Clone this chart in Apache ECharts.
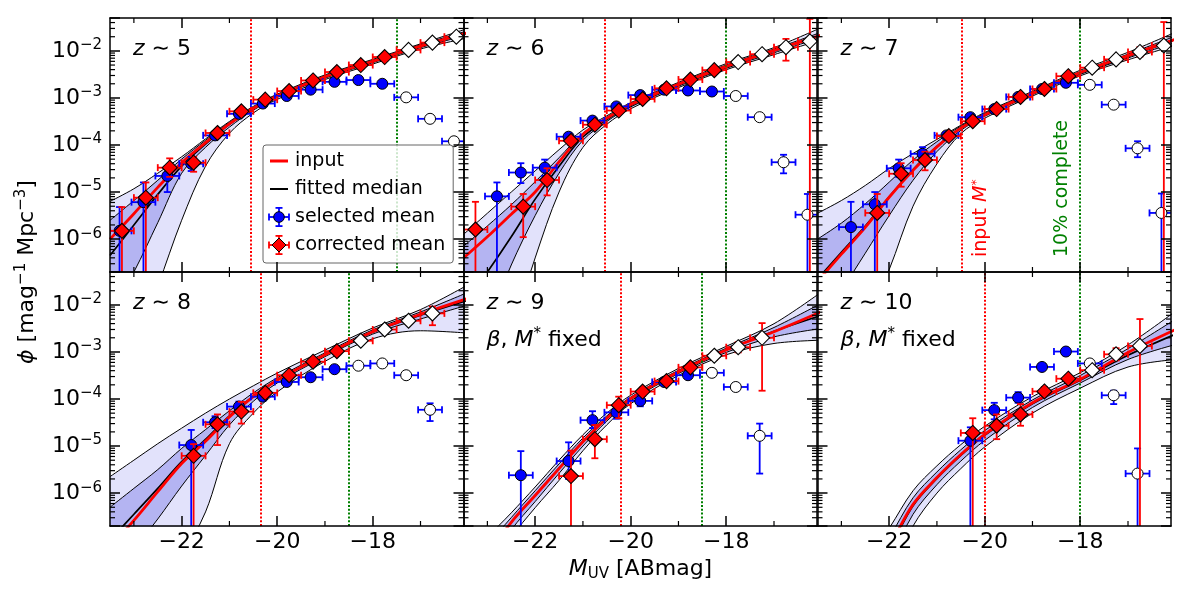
<!DOCTYPE html>
<html>
<head>
<meta charset="utf-8">
<title>UV luminosity function recovery, z ~ 5-10</title>
<script src="https://cdn.jsdelivr.net/npm/echarts@6.0.0/dist/echarts.min.js"></script>
<style>
  html, body { margin: 0; padding: 0; background: #fff; }
  #chart { width: 1200px; height: 594px; }
</style>
</head>
<body>
<div id="chart"></div>
<script>
// ---------- values ----------
var redshifts = ['5', '6', '7', '8', '9', '10'];
var fixedNote = [false, false, false, false, true, true];
var inputMStar = [-20.55, -20.55, -20.48, -20.35, -20.2, -20.0];
var completeness = [-17.5, -18.0, -18.0, -18.5, -18.52, -18.0];
var binHalfWidth = 0.25;
var OFF_BOTTOM = 1e-9;   // error bar runs off the bottom of the panel

var majorXTicks = [-22, -20, -18];
var minorXTicks = [-23, -21, -19, -17];

// curves: log10(phi) sampled at curveX
var curveX = [-23.5, -23, -22.5, -22, -21.5, -21, -20.5, -20, -19, -18, -17, -16];
var inputLog = [
  [-6.0, -5.46, -4.9, -4.38, -3.95, -3.55, -3.22, -2.96, -2.55, -2.22, -1.9, -1.61],
  [-6.4, -5.95, -5.47, -5.0, -4.36, -3.77, -3.43, -3.14, -2.71, -2.33, -1.99, -1.66],
  [-6.9, -6.32, -5.75, -5.11, -4.54, -4.04, -3.64, -3.36, -2.9, -2.46, -2.1, -1.75],
  [-7.15, -6.58, -5.97, -5.37, -4.9, -4.38, -3.95, -3.6, -3.06, -2.57, -2.2, -1.86],
  [-8.3, -7.35, -6.62, -6.05, -5.48, -4.91, -4.41, -3.99, -3.42, -2.96, -2.57, -2.14],
  [-10.3, -9.0, -8.0, -7.15, -6.24, -5.67, -5.18, -4.75, -4.08, -3.58, -3.01, -2.52]
];
var medianLog = [
  [-6.35, -5.7, -5.05, -4.45, -3.98, -3.56, -3.22, -2.96, -2.55, -2.22, -1.9, -1.62],
  [-7.4, -6.7, -5.95, -5.15, -4.45, -3.83, -3.46, -3.16, -2.72, -2.34, -2.0, -1.66],
  [-6.85, -6.28, -5.72, -5.1, -4.52, -4.03, -3.64, -3.36, -2.9, -2.47, -2.12, -1.76],
  [-7.0, -6.45, -5.9, -5.33, -4.86, -4.36, -3.94, -3.6, -3.06, -2.58, -2.22, -1.9],
  [-8.2, -7.3, -6.62, -6.05, -5.47, -4.9, -4.41, -3.99, -3.42, -2.96, -2.56, -2.22],
  [-10.3, -9.0, -8.0, -7.2, -6.27, -5.69, -5.2, -4.77, -4.1, -3.6, -3.07, -2.62]
];
var darkHiLog = [
  [-5.6, -5.18, -4.75, -4.3, -3.9, -3.52, -3.2, -2.94, -2.53, -2.2, -1.87, -1.57],
  [-6.15, -5.72, -5.27, -4.78, -4.27, -3.75, -3.41, -3.12, -2.69, -2.3, -1.96, -1.6],
  [-6.0, -5.66, -5.25, -4.79, -4.32, -3.93, -3.6, -3.33, -2.88, -2.44, -2.07, -1.68],
  [-6.3, -5.9, -5.5, -5.05, -4.65, -4.25, -3.87, -3.55, -3.02, -2.53, -2.15, -1.73],
  [-7.9, -7.12, -6.52, -5.95, -5.38, -4.83, -4.36, -3.96, -3.39, -2.92, -2.48, -1.96],
  [-9.8, -8.6, -7.7, -6.95, -6.1, -5.55, -5.08, -4.67, -4.02, -3.5, -2.93, -2.3]
];
var darkLoLog = [
  [-7.6, -6.7, -5.65, -4.6, -4.05, -3.62, -3.26, -2.99, -2.58, -2.25, -1.93, -1.66],
  [-9.0, -7.8, -6.55, -5.5, -4.6, -3.9, -3.5, -3.19, -2.75, -2.37, -2.04, -1.71],
  [-7.9, -7.1, -6.3, -5.5, -4.75, -4.14, -3.69, -3.39, -2.93, -2.5, -2.15, -1.82],
  [-7.9, -7.2, -6.55, -5.85, -5.2, -4.55, -4.05, -3.66, -3.1, -2.62, -2.3, -2.0],
  [-8.5, -7.55, -6.78, -6.18, -5.58, -5.0, -4.47, -4.04, -3.46, -3.01, -2.68, -2.5],
  [-10.8, -9.4, -8.3, -7.45, -6.45, -5.82, -5.32, -4.88, -4.18, -3.66, -3.16, -2.84]
];
var lightHiLog = [
  [-5.2, -4.93, -4.6, -4.25, -3.87, -3.5, -3.18, -2.92, -2.51, -2.18, -1.85, -1.52],
  [-5.9, -5.45, -5.0, -4.55, -4.1, -3.68, -3.38, -3.1, -2.67, -2.27, -1.93, -1.5],
  [-5.45, -5.18, -4.86, -4.5, -4.18, -3.88, -3.58, -3.31, -2.86, -2.41, -2.03, -1.6],
  [-5.65, -5.3, -4.95, -4.62, -4.3, -4.0, -3.72, -3.45, -2.96, -2.49, -2.1, -1.57],
  [-7.6, -6.95, -6.42, -5.87, -5.3, -4.76, -4.3, -3.92, -3.35, -2.88, -2.4, -1.72],
  [-9.3, -8.3, -7.5, -6.75, -5.95, -5.42, -4.97, -4.58, -3.95, -3.44, -2.85, -2.13]
];
var lightLoLog = [
  [-9.5, -8.3, -7.0, -5.6, -4.45, -3.75, -3.32, -3.03, -2.61, -2.28, -1.96, -1.72],
  [-11, -9.6, -8.0, -6.4, -5.0, -4.05, -3.56, -3.23, -2.78, -2.4, -2.08, -1.76],
  [-10.5, -9.2, -7.8, -6.65, -5.3, -4.4, -3.76, -3.43, -2.96, -2.53, -2.19, -1.88],
  [-11, -9.8, -8.6, -7.4, -6.4, -4.95, -4.3, -3.85, -3.2, -2.72, -2.55, -2.6],
  [-8.9, -7.85, -6.95, -6.31, -5.73, -5.1, -4.55, -4.1, -3.5, -3.06, -2.82, -2.75],
  [-11.3, -9.9, -8.7, -7.8, -6.7, -6.0, -5.48, -5.02, -4.3, -3.77, -3.32, -3.16]
];

// selected mean (blue circles), plotted slightly left of the bin centre
var selX = [
  [-23.3, -22.8, -22.3, -21.8, -21.3, -20.8, -20.3, -19.8, -19.3, -18.8, -18.3, -17.8, -17.3, -16.8, -16.3],
  [-22.8, -22.3, -21.8, -21.3, -20.8, -20.3, -19.8, -19.3, -18.8, -18.3, -17.8, -17.3, -16.8, -16.3],
  [-22.8, -22.3, -21.8, -21.3, -20.8, -20.3, -19.8, -19.3, -18.8, -18.3, -17.8, -17.3, -16.8, -16.3],
  [-21.8, -21.3, -20.8, -20.3, -19.8, -19.3, -18.8, -18.3, -17.8, -17.3, -16.8],
  [-22.3, -21.3, -20.8, -20.3, -19.8, -19.3, -18.8, -18.3, -17.8, -17.3],
  [-20.3, -19.8, -19.3, -18.8, -18.3, -17.8, -17.3, -16.8]
];
var selPhi = [
  [1.5e-6, 6.1e-6, 2.2e-5, 4.0e-5, 1.6e-4, 4.6e-4, 7.6e-4, 1.1e-3, 1.5e-3, 2.2e-3, 2.4e-3, 2.0e-3, 1.03e-3, 3.6e-4, 1.2e-4],
  [8.1e-6, 2.6e-5, 3.3e-5, 1.5e-4, 3.3e-4, 6.6e-4, 1.15e-3, 1.5e-3, 1.44e-3, 1.37e-3, 1.1e-3, 3.9e-4, 4.3e-5, 3.3e-6],
  [1.8e-6, 5.5e-6, 3.2e-5, 6.5e-5, 1.6e-4, 3.9e-4, 5.8e-4, 1.05e-3, 1.55e-3, 2.1e-3, 1.9e-3, 7.2e-4, 8.5e-5, 3.6e-6],
  [1.05e-5, 3.2e-5, 6.9e-5, 1.12e-4, 2.3e-4, 2.9e-4, 4.3e-4, 5.1e-4, 5.7e-4, 3.2e-4, 5.9e-5],
  [2.4e-6, 4.8e-6, 3.55e-5, 5.2e-5, 9.1e-5, 2.3e-4, 3.2e-4, 3.6e-4, 1.8e-4, 1.65e-5],
  [1.3e-5, 5.8e-5, 1.07e-4, 4.8e-4, 1.02e-3, 5.7e-4, 1.2e-4, 2.6e-6]
];
var selLo = [
  [OFF_BOTTOM, OFF_BOTTOM, 1.0e-5, 2.8e-5, 1.35e-4, 4.0e-4, 6.8e-4, 9.9e-4, 1.36e-3, 2.0e-3, 2.2e-3, 1.8e-3, 9.3e-4, 3.2e-4, 1.0e-4],
  [OFF_BOTTOM, 1.55e-5, 2.2e-5, 1.25e-4, 2.9e-4, 5.9e-4, 1.04e-3, 1.36e-3, 1.3e-3, 1.24e-3, 1.0e-3, 3.5e-4, 2.5e-5, OFF_BOTTOM],
  [OFF_BOTTOM, OFF_BOTTOM, 2.1e-5, 4.8e-5, 1.4e-4, 3.5e-4, 5.2e-4, 9.5e-4, 1.4e-3, 1.9e-3, 1.72e-3, 6.4e-4, 5.5e-5, OFF_BOTTOM],
  [OFF_BOTTOM, 2.4e-5, 5.4e-5, 9.2e-5, 1.95e-4, 2.6e-4, 3.9e-4, 4.6e-4, 5.1e-4, 2.85e-4, 3.4e-5],
  [OFF_BOTTOM, 2.0e-6, 2.4e-5, 3.8e-5, 7.0e-5, 2.0e-4, 2.8e-4, 3.1e-4, 1.5e-4, 2.6e-6],
  [OFF_BOTTOM, 3.7e-5, 8.3e-5, 4.2e-4, 9.0e-4, 5.0e-4, 7.8e-5, OFF_BOTTOM]
];
var selHi = [
  [4.8e-6, 1.6e-5, 3.6e-5, 5.6e-5, 1.9e-4, 5.2e-4, 8.5e-4, 1.2e-3, 1.65e-3, 2.4e-3, 2.6e-3, 2.2e-3, 1.13e-3, 4.0e-4, 1.4e-4],
  [1.6e-5, 4.1e-5, 4.9e-5, 1.8e-4, 3.8e-4, 7.4e-4, 1.27e-3, 1.65e-3, 1.58e-3, 1.5e-3, 1.2e-3, 4.3e-4, 6.2e-5, 9.1e-6],
  [6.2e-6, 1.0e-5, 4.9e-5, 9.0e-5, 1.8e-4, 4.4e-4, 6.5e-4, 1.16e-3, 1.7e-3, 2.3e-3, 2.1e-3, 8.1e-4, 1.2e-4, 9.3e-6],
  [2.2e-5, 4.3e-5, 8.8e-5, 1.36e-4, 2.7e-4, 3.25e-4, 4.8e-4, 5.7e-4, 6.4e-4, 3.6e-4, 8.1e-5],
  [7.8e-6, 1.2e-5, 5.5e-5, 7.0e-5, 1.18e-4, 2.6e-4, 3.7e-4, 4.2e-4, 2.15e-4, 3.0e-5],
  [2.5e-5, 8.3e-5, 1.4e-4, 5.5e-4, 1.16e-3, 6.5e-4, 1.5e-4, 8.9e-6]
];

// corrected mean (red diamonds)
var corX = [
  [-23.25, -22.75, -22.25, -21.75, -21.25, -20.75, -20.25, -19.75, -19.25, -18.75, -18.25, -17.75, -17.25, -16.75, -16.25],
  [-23.25, -22.25, -21.75, -21.25, -20.75, -20.25, -19.75, -19.25, -18.75, -18.25, -17.75, -17.25, -16.75, -16.25],
  [-22.25, -21.75, -21.25, -20.75, -20.25, -19.75, -19.25, -18.75, -18.25, -17.75, -17.25, -16.75, -16.25],
  [-21.75, -21.25, -20.75, -20.25, -19.75, -19.25, -18.75, -18.25, -17.75, -17.25, -16.75],
  [-21.25, -20.75, -20.25, -19.75, -19.25, -18.75, -18.25, -17.75, -17.25],
  [-20.25, -19.75, -19.25, -18.75, -18.25, -17.75, -17.25, -16.75]
];
var corPhi = [
  [1.5e-6, 7.6e-6, 3.3e-5, 4.2e-5, 1.8e-4, 5.2e-4, 9.2e-4, 1.4e-3, 2.35e-3, 3.55e-3, 5.0e-3, 7.4e-3, 1.05e-2, 1.5e-2, 2.0e-2],
  [1.6e-6, 4.9e-6, 1.8e-5, 1.23e-4, 2.7e-4, 5.4e-4, 9.5e-4, 1.6e-3, 2.46e-3, 3.9e-3, 5.8e-3, 8.5e-3, 1.2e-2, 1.6e-2],
  [3.6e-6, 2.45e-5, 4.8e-5, 1.55e-4, 3.2e-4, 5.8e-4, 1.05e-3, 1.55e-3, 2.9e-3, 4.4e-3, 6.6e-3, 9.5e-3, 1.3e-2],
  [6.2e-6, 2.9e-5, 5.4e-5, 1.35e-4, 3.2e-4, 6.2e-4, 1.04e-3, 1.73e-3, 3.0e-3, 4.6e-3, 6.6e-3],
  [2.3e-6, 1.4e-5, 7.4e-5, 1.44e-4, 2.4e-4, 4.7e-4, 8.3e-4, 1.26e-3, 2.0e-3],
  [1.9e-5, 2.7e-5, 4.7e-5, 1.45e-4, 2.7e-4, 4.1e-4, 8.9e-4, 1.34e-3]
];
var corLo = [
  [OFF_BOTTOM, OFF_BOTTOM, 2.1e-5, 2.7e-5, 1.45e-4, 4.5e-4, 8.0e-4, 1.2e-3, 2.05e-3, 3.0e-3, 4.2e-3, 6.2e-3, 8.8e-3, 1.25e-2, 1.7e-2],
  [OFF_BOTTOM, 1.1e-6, 8.5e-6, 1.0e-4, 2.35e-4, 4.8e-4, 8.5e-4, 1.42e-3, 2.2e-3, 3.4e-3, 5.0e-3, 7.0e-3, 6.2e-3, OFF_BOTTOM],
  [OFF_BOTTOM, 1.3e-5, 2.9e-5, 1.3e-4, 2.8e-4, 5.1e-4, 9.3e-4, 1.38e-3, 2.55e-3, 3.8e-3, 5.6e-3, 7.6e-3, OFF_BOTTOM],
  [OFF_BOTTOM, 1.05e-5, 3.0e-5, 1.05e-4, 2.7e-4, 5.4e-4, 9.2e-4, 1.5e-3, 2.6e-3, 3.9e-3, 3.7e-3],
  [OFF_BOTTOM, 5.5e-6, 3.9e-5, 1.15e-4, 2.0e-4, 4.0e-4, 6.8e-4, 9.8e-4, 1.5e-4],
  [OFF_BOTTOM, 1.4e-5, 2.7e-5, 1.15e-4, 2.3e-4, 3.4e-4, 6.6e-4, OFF_BOTTOM]
];
var corHi = [
  [4.8e-6, 1.6e-5, 5.2e-5, 5.6e-5, 2.2e-4, 6.0e-4, 1.05e-3, 1.6e-3, 2.7e-3, 4.1e-3, 5.9e-3, 8.8e-3, 1.25e-2, 1.8e-2, 2.4e-2],
  [6.2e-6, 9.1e-6, 3.2e-5, 1.5e-4, 3.1e-4, 6.1e-4, 1.07e-3, 1.8e-3, 2.75e-3, 4.4e-3, 6.6e-3, 1.0e-2, 1.8e-2, 4.8e-2],
  [9.1e-6, 4.1e-5, 7.2e-5, 1.85e-4, 3.65e-4, 6.6e-4, 1.18e-3, 1.75e-3, 3.3e-3, 5.1e-3, 7.8e-3, 1.2e-2, 4.1e-2],
  [1.1e-5, 4.7e-5, 8.7e-5, 1.7e-4, 3.8e-4, 7.1e-4, 1.18e-3, 2.0e-3, 3.5e-3, 5.5e-3, 9.2e-3],
  [8.0e-6, 2.8e-5, 1.12e-4, 1.75e-4, 2.8e-4, 5.5e-4, 1.0e-3, 1.6e-3, 4.1e-3],
  [3.9e-5, 4.7e-5, 7.8e-5, 1.8e-4, 3.2e-4, 5.0e-4, 1.2e-3, 5.0e-3]
];

// ---------- layout / style ----------
var X_MIN = -23.5, X_MAX = -16.1;
var Y_MIN = 2e-7, Y_MAX = 5e-2;
var gridLeft = [110, 463.5, 817.5];
var gridTop = [18, 272];
var gridW = 353.5, gridH = 254;
var FONT = 'DejaVu Sans';
var LIGHT = '#e2e2fb', DARK = '#b4b4f2';
var BLUE = '#0000ff', RED = '#ff0000', GREEN = '#008000';
var CAP = 3.5, MAJOR_LEN = 10, MINOR_LEN = 5;
var DOTS = [2, 1.8];

var yMinorTicks = [];
for (var n = -7; n <= -2; n++) {
  for (var k = 2; k <= 9; k++) {
    var v = k * Math.pow(10, n);
    if (v > Y_MIN && v < Y_MAX) yMinorTicks.push(v);
  }
}

function minusSign(s) { return String(s).replace('-', '\u2212'); }

function decadeLabel(value) {
  var e = Math.log10(value);
  var n = Math.round(e);
  if (Math.abs(e - n) > 0.01) return '';
  return '10{sup|' + minusSign(n) + '}';
}

function svgIcon(body) {
  var svg = "<svg xmlns='http://www.w3.org/2000/svg' width='22' height='20' viewBox='0 0 22 20'>" + body + '</svg>';
  return 'image://data:image/svg+xml;charset=utf-8,' + encodeURIComponent(svg);
}
function errIcon(color, marker) {
  return svgIcon(
    "<g stroke='" + color + "' stroke-width='1.8' fill='none'>" +
    "<line x1='1' y1='10' x2='21' y2='10'/><line x1='11' y1='0.9' x2='11' y2='19.1'/>" +
    "<line x1='1' y1='6.5' x2='1' y2='13.5'/><line x1='21' y1='6.5' x2='21' y2='13.5'/>" +
    "<line x1='7.5' y1='0.9' x2='14.5' y2='0.9'/><line x1='7.5' y1='19.1' x2='14.5' y2='19.1'/></g>" +
    marker);
}
var inputIcon = svgIcon("<line x1='2' y1='10' x2='20' y2='10' stroke='" + RED + "' stroke-width='3'/>");
var medianIcon = svgIcon("<line x1='2' y1='10' x2='20' y2='10' stroke='#000' stroke-width='2'/>");
var selIcon = errIcon(BLUE, "<circle cx='11' cy='10' r='5.3' fill='" + BLUE + "' stroke='#000' stroke-width='1'/>");
var corIcon = errIcon(RED, "<polygon points='11,3 18,10 11,17 4,10' fill='" + RED + "' stroke='#000' stroke-width='1'/>");

function errorBarItem(color) {
  return function (params, api) {
    var x = api.value(0), y = api.value(1), lo = api.value(2), hi = api.value(3);
    var cs = params.coordSys;
    var c = api.coord([x, y]);
    var l = api.coord([x - binHalfWidth, y]);
    var r = api.coord([x + binHalfWidth, y]);
    var t = api.coord([x, hi]);
    var b = api.coord([x, lo]);
    var kids = [];
    function seg(x1, y1, x2, y2) {
      kids.push({ type: 'line', shape: { x1: x1, y1: y1, x2: x2, y2: y2 },
                  style: { stroke: color, lineWidth: 1.8 } });
    }
    var xl = Math.max(l[0], cs.x), xr = Math.min(r[0], cs.x + cs.width);
    seg(xl, c[1], xr, c[1]);
    if (l[0] >= cs.x) seg(l[0], c[1] - CAP, l[0], c[1] + CAP);
    if (r[0] <= cs.x + cs.width) seg(r[0], c[1] - CAP, r[0], c[1] + CAP);
    var yt = Math.max(t[1], cs.y), yb = Math.min(b[1], cs.y + cs.height);
    seg(c[0], yt, c[0], yb);
    if (t[1] >= cs.y) seg(c[0] - CAP, t[1], c[0] + CAP, t[1]);
    if (b[1] <= cs.y + cs.height) seg(c[0] - CAP, b[1], c[0] + CAP, b[1]);
    return { type: 'group', children: kids };
  };
}

function yMinorItem(params, api) {
  var v = api.value(1);
  var a = api.coord([X_MIN, v]), b = api.coord([X_MAX, v]);
  var st = { stroke: '#000', lineWidth: 1.2 };
  return { type: 'group', children: [
    { type: 'line', shape: { x1: a[0], y1: a[1], x2: a[0] + MINOR_LEN, y2: a[1] }, style: st },
    { type: 'line', shape: { x1: b[0], y1: b[1], x2: b[0] - MINOR_LEN, y2: b[1] }, style: st }
  ] };
}
function xMinorItem(params, api) {
  var v = api.value(0);
  var a = api.coord([v, Y_MIN]), b = api.coord([v, Y_MAX]);
  var st = { stroke: '#000', lineWidth: 1.2 };
  return { type: 'group', children: [
    { type: 'line', shape: { x1: a[0], y1: a[1], x2: a[0], y2: a[1] - MINOR_LEN }, style: st },
    { type: 'line', shape: { x1: b[0], y1: b[1], x2: b[0], y2: b[1] + MINOR_LEN }, style: st }
  ] };
}

function curve(p, logs, name, color, width, fill) {
  var s = {
    type: 'line', name: name, xAxisIndex: 2 * p, yAxisIndex: 2 * p,
    data: curveX.map(function (x, i) { return [x, Math.pow(10, logs[p][i])]; }),
    smooth: 0.35, symbol: 'none', silent: true, z: 2,
    lineStyle: { color: color, width: width }
  };
  if (fill) s.areaStyle = { color: fill, opacity: 1, origin: 1e-12 };
  return s;
}

var grids = [], xAxes = [], yAxes = [], series = [], graphics = [];
var axisLineStyle = { color: '#000', width: 1.5 };

for (var p = 0; p < 6; p++) {
  var col = p % 3, row = Math.floor(p / 3);
  grids.push({ left: gridLeft[col], top: gridTop[row], width: gridW, height: gridH, show: false });

  ['bottom', 'top'].forEach(function (pos) {
    xAxes.push({
      type: 'value', gridIndex: p, position: pos, min: X_MIN, max: X_MAX, z: 10,
      axisLine: { show: true, onZero: false, lineStyle: axisLineStyle },
      axisTick: { show: true, inside: true, length: MAJOR_LEN, lineStyle: axisLineStyle, customValues: majorXTicks },
      axisLabel: { show: pos === 'bottom' && row === 1, customValues: majorXTicks, formatter: minusSign,
                   fontSize: 22, fontFamily: FONT, color: '#000', margin: 5 },
      splitLine: { show: false }
    });
  });
  ['left', 'right'].forEach(function (pos) {
    yAxes.push({
      type: 'log', logBase: 10, gridIndex: p, position: pos, min: Y_MIN, max: Y_MAX, z: 10,
      axisLine: { show: true, onZero: false, lineStyle: axisLineStyle },
      axisTick: { show: true, inside: true, length: MAJOR_LEN, lineStyle: axisLineStyle },
      axisLabel: { show: pos === 'left' && col === 0, formatter: decadeLabel, fontSize: 22, lineHeight: 26,
                   fontFamily: FONT, color: '#000', margin: 8,
                   rich: { sup: { fontSize: 15, lineHeight: 12, verticalAlign: 'top', fontFamily: FONT, color: '#000' } } },
      splitLine: { show: false }, minorTick: { show: false }
    });
  });

  // uncertainty bands: layered fills, top edge down
  series.push(curve(p, lightHiLog, 'band', '#000', 1, LIGHT));
  series.push(curve(p, darkHiLog, 'band', '#000', 1, DARK));
  series.push(curve(p, darkLoLog, 'band', '#000', 1, LIGHT));
  series.push(curve(p, lightLoLog, 'band', '#000', 1, '#ffffff'));
  series.push(curve(p, medianLog, 'fitted median', '#000', 1.7, null));
  var inp = curve(p, inputLog, 'input', RED, 2.8, null);
  inp.markLine = {
    silent: true, symbol: ['none', 'none'], label: { show: false }, z: 2.5, animation: false,
    lineStyle: { type: DOTS, width: 2 },
    data: [
      { xAxis: inputMStar[p], lineStyle: { color: RED, type: DOTS, width: 2 } },
      { xAxis: completeness[p], lineStyle: { color: GREEN, type: DOTS, width: 2 } }
    ]
  };
  series.push(inp);

  series.push({
    type: 'custom', name: 'selected err', xAxisIndex: 2 * p, yAxisIndex: 2 * p, silent: true, z: 3, clip: true,
    encode: { x: 0, y: 1 }, renderItem: errorBarItem(BLUE),
    data: selX[p].map(function (x, i) { return [x, selPhi[p][i], selLo[p][i], selHi[p][i]]; })
  });
  series.push({
    type: 'scatter', name: 'selected mean', xAxisIndex: 2 * p, yAxisIndex: 2 * p, silent: true, z: 3.5,
    symbol: 'circle', symbolSize: 11, itemStyle: { color: BLUE, borderColor: '#000', borderWidth: 1, opacity: 1 },
    data: selX[p].map(function (x, i) {
      return { value: [x, selPhi[p][i]], itemStyle: { color: x > completeness[p] ? '#ffffff' : BLUE } };
    })
  });
  series.push({
    type: 'custom', name: 'corrected err', xAxisIndex: 2 * p, yAxisIndex: 2 * p, silent: true, z: 4, clip: true,
    encode: { x: 0, y: 1 }, renderItem: errorBarItem(RED),
    data: corX[p].map(function (x, i) { return [x, corPhi[p][i], corLo[p][i], corHi[p][i]]; })
  });
  series.push({
    type: 'scatter', name: 'corrected mean', xAxisIndex: 2 * p, yAxisIndex: 2 * p, silent: true, z: 4.5,
    symbol: 'diamond', symbolSize: 15, itemStyle: { color: RED, borderColor: '#000', borderWidth: 1.1, opacity: 1 },
    data: corX[p].map(function (x, i) {
      return { value: [x, corPhi[p][i]], itemStyle: { color: x > completeness[p] ? '#ffffff' : RED } };
    })
  });

  // minor ticks on all four sides
  series.push({
    type: 'custom', name: 'y minor ticks', xAxisIndex: 2 * p, yAxisIndex: 2 * p, silent: true, z: 10,
    encode: { x: 0, y: 1 }, renderItem: yMinorItem,
    data: yMinorTicks.map(function (v) { return [X_MIN, v]; })
  });
  series.push({
    type: 'custom', name: 'x minor ticks', xAxisIndex: 2 * p, yAxisIndex: 2 * p, silent: true, z: 10,
    encode: { x: 0, y: 1 }, renderItem: xMinorItem,
    data: minorXTicks.map(function (v) { return [v, Y_MIN]; })
  });

  // panel labels
  var richText = {
    i: { fontStyle: 'italic', fontSize: 22, fontFamily: FONT, lineHeight: 26, fill: '#000' },
    sup: { fontSize: 15, fontFamily: FONT, lineHeight: 12, verticalAlign: 'top', fill: '#000' }
  };
  graphics.push({
    type: 'text', x: gridLeft[col] + 23, y: gridTop[row] + 31, z: 20, silent: true,
    style: { text: '{i|z} \u223c ' + redshifts[p], rich: richText, fontSize: 22, fontFamily: FONT, fill: '#000',
             lineHeight: 26, align: 'left', verticalAlign: 'middle' }
  });
  if (fixedNote[p]) {
    graphics.push({
      type: 'text', x: gridLeft[col] + 23, y: gridTop[row] + 68, z: 20, silent: true,
      style: { text: '{i|\u03b2}, {i|M}{sup|*} fixed', rich: richText, fontSize: 22, fontFamily: FONT, fill: '#000',
               lineHeight: 26, align: 'left', verticalAlign: 'middle' }
    });
  }
}

// annotations in the z~7 panel, axis titles
graphics.push({
  type: 'text', x: 981.5, y: 257, rotation: Math.PI / 2, z: 20, silent: true,
  style: { text: 'input {i|M}{sup|*}', fontSize: 19, fontFamily: FONT, fill: RED, lineHeight: 22,
           align: 'left', verticalAlign: 'middle',
           rich: { i: { fontStyle: 'italic', fontSize: 19, fontFamily: FONT, fill: RED, lineHeight: 22 },
                   sup: { fontSize: 13, fontFamily: FONT, fill: RED, lineHeight: 10, verticalAlign: 'top' } } }
});
graphics.push({
  type: 'text', x: 1062, y: 257, rotation: Math.PI / 2, z: 20, silent: true,
  style: { text: '10% complete', fontSize: 19, fontFamily: FONT, fill: GREEN, align: 'left', verticalAlign: 'middle' }
});
graphics.push({
  type: 'text', x: 27, y: 272, rotation: Math.PI / 2, z: 20, silent: true,
  style: { text: '{i|\u03d5} [mag{sup|\u22121} Mpc{sup|\u22123}]', fontSize: 22, fontFamily: FONT, fill: '#000',
           lineHeight: 26, align: 'center', verticalAlign: 'middle',
           rich: { i: { fontStyle: 'italic', fontSize: 22, fontFamily: FONT, fill: '#000', lineHeight: 26 },
                   sup: { fontSize: 15, fontFamily: FONT, fill: '#000', lineHeight: 12, verticalAlign: 'top' } } }
});
graphics.push({
  type: 'text', x: 640.5, y: 569, z: 20, silent: true,
  style: { text: '{i|M}{sub|UV} [ABmag]', fontSize: 22, fontFamily: FONT, fill: '#000',
           lineHeight: 26, align: 'center', verticalAlign: 'middle',
           rich: { i: { fontStyle: 'italic', fontSize: 22, fontFamily: FONT, fill: '#000', lineHeight: 26 },
                   sub: { fontSize: 15, fontFamily: FONT, fill: '#000', lineHeight: 13, verticalAlign: 'bottom' } } }
});

var chart = echarts.init(document.getElementById('chart'), null, { renderer: 'canvas' });
chart.setOption({
  animation: false,
  backgroundColor: '#ffffff',
  grid: grids,
  xAxis: xAxes,
  yAxis: yAxes,
  legend: {
    left: 263, top: 145, orient: 'vertical', selectedMode: false, z: 5,
    itemWidth: 22, itemHeight: 20, itemGap: 8, padding: [6, 8, 8, 5],
    backgroundColor: 'rgba(255,255,255,0.8)', borderColor: '#666', borderWidth: 1, borderRadius: 3,
    textStyle: { fontSize: 19, fontFamily: FONT, color: '#000' },
    data: [
      { name: 'input', icon: inputIcon },
      { name: 'fitted median', icon: medianIcon },
      { name: 'selected mean', icon: selIcon },
      { name: 'corrected mean', icon: corIcon }
    ]
  },
  series: series,
  graphic: { elements: graphics }
});
</script>
</body>
</html>
